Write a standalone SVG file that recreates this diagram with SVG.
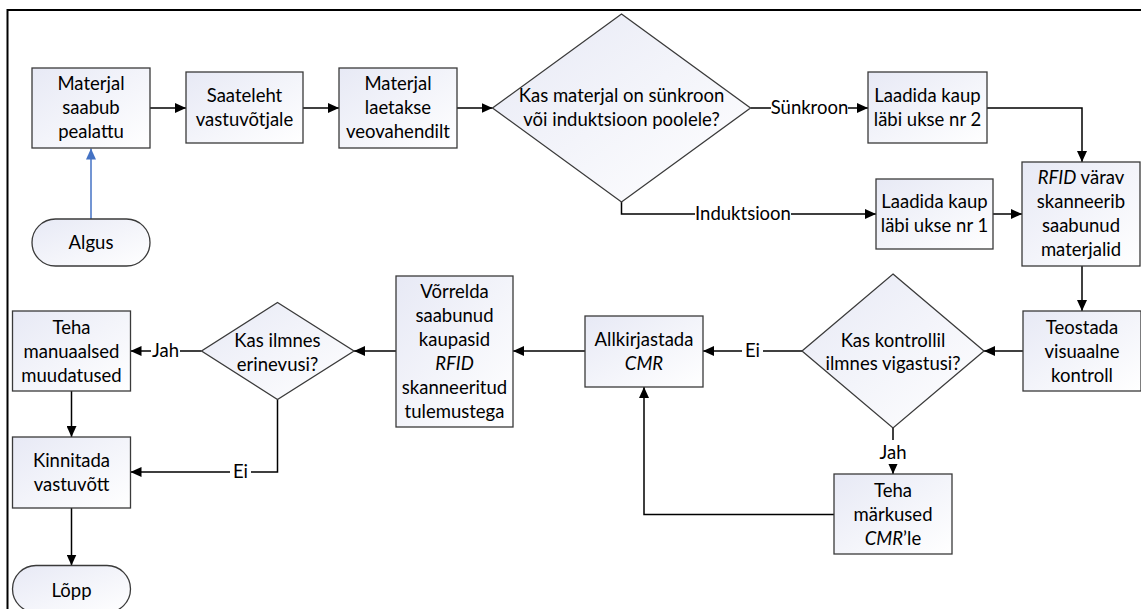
<svg xmlns="http://www.w3.org/2000/svg" width="1141" height="609" viewBox="0 0 1141 609">
  <style>
    .shape { fill: url(#fillGrad); stroke: #3a3a3a; stroke-width: 1.3; }
    .txt { font-family: "Lato", "Open Sans", sans-serif; font-size: 18.5px; fill: #000; text-anchor: middle; }
    .it { font-style: italic; }
    .line { fill: none; stroke: #000; stroke-width: 1.5; marker-end: url(#arr); }
    .blue { fill: none; stroke: #4472c4; stroke-width: 1.5; marker-end: url(#arrBlue); }
    .lblbg { fill: #fff; }
  </style>
  <defs>
    <linearGradient id="fillGrad" x1="0" y1="0" x2="1" y2="1">
      <stop offset="0" stop-color="#e7e9f5"/>
      <stop offset="1" stop-color="#ffffff"/>
    </linearGradient>
    <marker id="arr" markerWidth="11" markerHeight="10" refX="11" refY="5" orient="auto" markerUnits="userSpaceOnUse">
      <path d="M0,0 L11,5 L0,10 z" fill="#000"/>
    </marker>
    <marker id="arrBlue" markerWidth="11" markerHeight="10" refX="11" refY="5" orient="auto" markerUnits="userSpaceOnUse">
      <path d="M0,0 L11,5 L0,10 z" fill="#4472c4"/>
    </marker>
  </defs>

  <rect width="1141" height="609" fill="#fff"/>
  <!-- page frame -->
  <path d="M7.5,620 V10 H1150" fill="none" stroke="#000" stroke-width="2"/>

  <!-- connectors -->
  <g id="connectors">
    <path class="blue" d="M91,219 V148.5"/>
    <path class="line" d="M150,108 H186"/>
    <path class="line" d="M303,108 H339"/>
    <path class="line" d="M457,108 H492.5"/>
    <path class="line" d="M750.5,108 H868"/>
    <path class="line" d="M987,108 H1082 V162"/>
    <path class="line" d="M621.5,202 V214 H876"/>
    <path class="line" d="M993,214 H1022"/>
    <path class="line" d="M1082,266 V311"/>
    <path class="line" d="M1023,351 H984"/>
    <path class="line" d="M802,351 H703"/>
    <path class="line" d="M893,428 V474"/>
    <path class="line" d="M834,514.5 H644 V387"/>
    <path class="line" d="M585,351 H513"/>
    <path class="line" d="M396,351 H354"/>
    <path class="line" d="M201.5,351 H130.5"/>
    <path class="line" d="M277.5,399.5 V472 H130.5"/>
    <path class="line" d="M71.5,391 V437"/>
    <path class="line" d="M71.5,508 V565.5"/>

    <!-- connector labels -->
    <rect class="lblbg" x="771" y="98" width="77" height="20"/>
    <text class="txt" x="809.5" y="114">Sünkroon</text>
    <rect class="lblbg" x="695" y="204" width="96" height="20"/>
    <text class="txt" x="743" y="220">Induktsioon</text>
    <rect class="lblbg" x="742" y="341" width="21" height="20"/>
    <text class="txt" x="752.5" y="357">Ei</text>
    <rect class="lblbg" x="878" y="440" width="30" height="24"/>
    <text class="txt" x="893" y="459">Jah</text>
    <rect class="lblbg" x="151" y="341" width="29" height="20"/>
    <text class="txt" x="165.5" y="357">Jah</text>
    <rect class="lblbg" x="230" y="462" width="21" height="20"/>
    <text class="txt" x="240.5" y="478">Ei</text>
  </g>

  <g id="algus">
    <rect class="shape" x="32" y="219" width="118" height="47" rx="23.5"/>
    <text class="txt" x="91" y="249">Algus</text>
  </g>

  <g id="materjal-saabub">
    <rect class="shape" x="32" y="68" width="118" height="80"/>
    <text class="txt" x="91" y="90">Materjal</text>
    <text class="txt" x="91" y="114">saabub</text>
    <text class="txt" x="91" y="138">pealattu</text>
  </g>

  <g id="saateleht">
    <rect class="shape" x="186" y="72" width="117" height="71"/>
    <text class="txt" x="244.5" y="102">Saateleht</text>
    <text class="txt" x="244.5" y="126">vastuvõtjale</text>
  </g>

  <g id="materjal-laetakse">
    <rect class="shape" x="339" y="68" width="118" height="80"/>
    <text class="txt" x="398" y="90">Materjal</text>
    <text class="txt" x="398" y="114">laetakse</text>
    <text class="txt" x="398" y="138">veovahendilt</text>
  </g>

  <g id="otsus-sunkroon">
    <path class="shape" d="M621.5,14 L750.5,108 L621.5,202 L492.5,108 Z"/>
    <text class="txt" x="621.5" y="102">Kas materjal on sünkroon</text>
    <text class="txt" x="621.5" y="126">või induktsioon poolele?</text>
  </g>

  <g id="uks-2">
    <rect class="shape" x="868" y="72" width="119" height="71"/>
    <text class="txt" x="927.5" y="102">Laadida kaup</text>
    <text class="txt" x="927.5" y="126">läbi ukse nr 2</text>
  </g>

  <g id="uks-1">
    <rect class="shape" x="876" y="179" width="117" height="70"/>
    <text class="txt" x="934.5" y="208">Laadida kaup</text>
    <text class="txt" x="934.5" y="232">läbi ukse nr 1</text>
  </g>

  <g id="rfid-varav">
    <rect class="shape" x="1022" y="162" width="118" height="104"/>
    <text class="txt" x="1081" y="184"><tspan class="it">RFID</tspan> värav</text>
    <text class="txt" x="1081" y="208">skanneerib</text>
    <text class="txt" x="1081" y="232">saabunud</text>
    <text class="txt" x="1081" y="256">materjalid</text>
  </g>

  <g id="visuaalne-kontroll">
    <rect class="shape" x="1023" y="311" width="118" height="80"/>
    <text class="txt" x="1082" y="334">Teostada</text>
    <text class="txt" x="1082" y="358">visuaalne</text>
    <text class="txt" x="1082" y="382">kontroll</text>
  </g>

  <g id="otsus-vigastused">
    <path class="shape" d="M893,274 L984,351 L893,428 L802,351 Z"/>
    <text class="txt" x="893" y="347">Kas kontrollil</text>
    <text class="txt" x="893" y="370">ilmnes vigastusi?</text>
  </g>

  <g id="markused">
    <rect class="shape" x="834" y="474" width="118" height="80"/>
    <text class="txt" x="893" y="497">Teha</text>
    <text class="txt" x="893" y="521">märkused</text>
    <text class="txt" x="893" y="545"><tspan class="it">CMR</tspan>’le</text>
  </g>

  <g id="allkirjastada">
    <rect class="shape" x="585" y="316" width="118" height="71"/>
    <text class="txt" x="644" y="346">Allkirjastada</text>
    <text class="txt" x="644" y="370"><tspan class="it">CMR</tspan></text>
  </g>

  <g id="vorrelda">
    <rect class="shape" x="396" y="276" width="117" height="151"/>
    <text class="txt" x="454.5" y="298">Võrrelda</text>
    <text class="txt" x="454.5" y="322">saabunud</text>
    <text class="txt" x="454.5" y="346">kaupasid</text>
    <text class="txt" x="454.5" y="370"><tspan class="it">RFID</tspan></text>
    <text class="txt" x="454.5" y="394">skanneeritud</text>
    <text class="txt" x="454.5" y="418">tulemustega</text>
  </g>

  <g id="otsus-erinevused">
    <path class="shape" d="M277.5,302.5 L354,351 L277.5,399.5 L201.5,351 Z"/>
    <text class="txt" x="277.5" y="347">Kas ilmnes</text>
    <text class="txt" x="277.5" y="371">erinevusi?</text>
  </g>

  <g id="manuaalsed-muudatused">
    <rect class="shape" x="12.5" y="311" width="118" height="80"/>
    <text class="txt" x="71.5" y="334">Teha</text>
    <text class="txt" x="71.5" y="358">manuaalsed</text>
    <text class="txt" x="71.5" y="382">muudatused</text>
  </g>

  <g id="kinnitada">
    <rect class="shape" x="12.5" y="437" width="118" height="71"/>
    <text class="txt" x="71.5" y="467">Kinnitada</text>
    <text class="txt" x="71.5" y="491">vastuvõtt</text>
  </g>

  <g id="lopp">
    <rect class="shape" x="12.5" y="565.5" width="118" height="47" rx="23.5"/>
    <text class="txt" x="71.5" y="597">Lõpp</text>
  </g>
</svg>
